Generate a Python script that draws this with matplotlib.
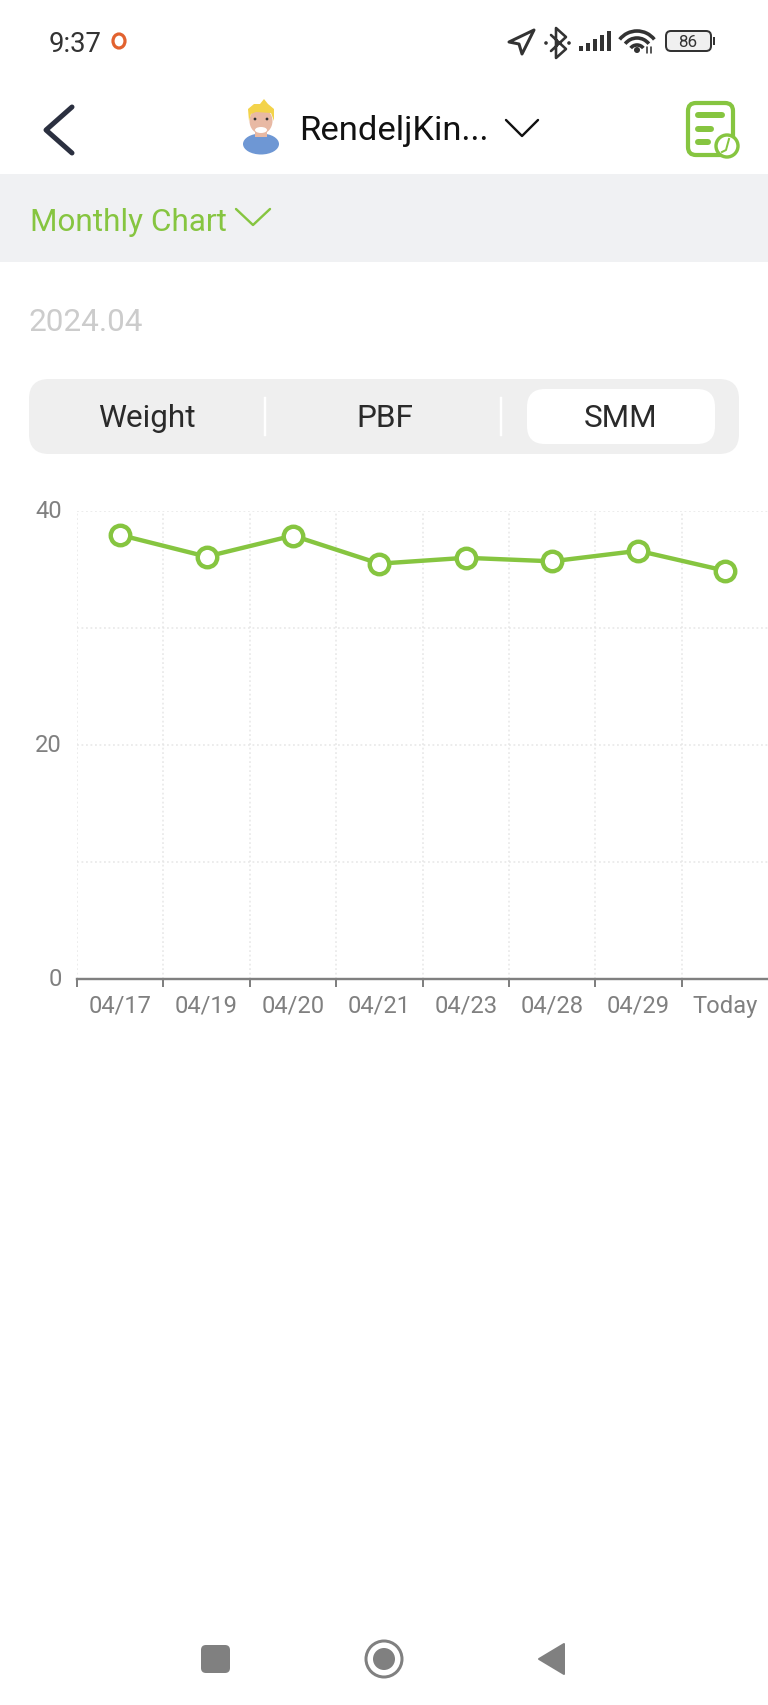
import matplotlib
matplotlib.use("Agg")
import matplotlib.pyplot as plt
from matplotlib.patches import FancyBboxPatch, Circle, Ellipse, Arc, Polygon, Rectangle
from matplotlib.transforms import ScaledTranslation

plt.rcParams['font.family'] = ['Roboto', 'DejaVu Sans']

# ---- data ----
dates = ['04/17', '04/19', '04/20', '04/21', '04/23', '04/28', '04/29', 'Today']
smm_values = [37.95, 36.1, 37.9, 35.5, 36.0, 35.7, 36.6, 34.9]
y_gridlines = [0, 10, 20, 30, 40]
y_labels = {0: '0', 20: '20', 40: '40'}
tab_labels = ['Weight', 'PBF', 'SMM']

GREEN = '#86c540'
GREY = '#808080'
W, H = 768, 1706
px = 72 / 100  # points per pixel at dpi 100

fig = plt.figure(figsize=(W / 100, H / 100), dpi=100, facecolor='white')

# ---- interface overlay in pixel coordinates ----
ui = fig.add_axes([0, 0, 1, 1], zorder=0)
ui.set_xlim(0, W)
ui.set_ylim(H, 0)
ui.axis('off')


def label(x, y, s, size_px, color, ha='center', **kw):
    ui.text(x, y + 2, s, fontsize=size_px * px, color=color, ha=ha, va='center', **kw)


def stroke(pts, color, lw_px, **kw):
    xs, ys = zip(*pts)
    ui.plot(xs, ys, color=color, lw=lw_px * px, solid_capstyle='round',
            solid_joinstyle='round', **kw)


def rbox(x0, y0, x1, y1, r, **kw):
    ui.add_patch(FancyBboxPatch((x0 + r, y0 + r), x1 - x0 - 2 * r, y1 - y0 - 2 * r,
                                boxstyle=f'round,pad={r},rounding_size={r}', **kw))


# status bar
label(49, 42, '9:37', 27.5, '#333333', ha='left')
ui.add_patch(Ellipse((119, 42), 12, 14, fc='none', ec='#e2622f', lw=3.2 * px))
ui.add_patch(Polygon([(509, 43), (534, 31), (522, 55), (519, 45)], closed=True,
                     fc='none', ec='#333333', lw=3 * px, joinstyle='round'))
stroke([(551, 36), (566, 50), (556, 59), (556, 29), (566, 38), (551, 52)], '#333333', 2.6)
ui.add_patch(Circle((546, 44), 1.8, fc='#333333', ec='none'))
ui.add_patch(Circle((569, 44), 1.8, fc='#333333', ec='none'))
for bx, top in zip([581, 588, 595, 602, 609], [47, 44, 40, 36, 32]):
    ui.add_patch(Rectangle((bx - 2.2, top), 4.4, 52 - top, fc='#333333', ec='none'))
for r in (8, 15, 22):
    ui.add_patch(Arc((637, 54), r * 2, r * 2, theta1=218, theta2=322, ec='#333333', lw=3.6 * px))
ui.add_patch(Circle((637, 51), 3, fc='#333333', ec='none'))
stroke([(647, 48), (647, 54)], '#333333', 1.6)
stroke([(651, 48), (651, 54)], '#333333', 1.6)
rbox(666, 32, 711, 52, 5, fc='#f0f0f0', ec='#333333', lw=2 * px)
ui.add_patch(Rectangle((712.5, 38), 2.4, 8, fc='#333333', ec='none'))
label(688, 40.5, '86', 17, '#333333')

# title bar
stroke([(72, 108), (46, 131), (72, 154)], '#2b3040', 5)
ui.add_patch(Ellipse((261, 145), 36, 21, fc='#6e97d4', ec='none'))
ui.add_patch(Rectangle((255, 128), 12, 10, fc='#e8b9a4', ec='none'))
ui.add_patch(Ellipse((261, 122), 23, 26, fc='#e8b9a4', ec='none'))
ui.add_patch(Polygon([(249, 122), (248, 110), (254, 105), (260, 105), (264, 100), (268, 105),
                      (274, 110), (274, 122), (271, 114), (256, 113), (251, 115)],
                     closed=True, fc='#f3d34a', ec='none'))
ui.add_patch(Ellipse((261, 131), 12, 6, fc='white', ec='none'))
ui.add_patch(Circle((255, 120), 1.4, fc='#333333', ec='none'))
ui.add_patch(Circle((267, 120), 1.4, fc='#333333', ec='none'))
label(299, 129, 'RendeljKin...', 34.5, '#111111', ha='left')
stroke([(506, 121), (522, 137), (538, 121)], '#111111', 2.4)

rbox(688, 104, 733, 156, 8, fc='white', ec=GREEN, lw=4.2 * px)
stroke([(698, 116), (722, 116)], GREEN, 6)
stroke([(698, 130), (711, 130)], GREEN, 6)
stroke([(698, 143), (708, 143)], GREEN, 6)
ui.add_patch(Circle((727, 147), 11, fc='white', ec=GREEN, lw=3.4 * px, zorder=3))
ui.plot([729, 726, 722], [140, 151, 153], color=GREEN, lw=2 * px, zorder=4)

# selector band
ui.add_patch(Rectangle((0, 174.5), W, 88.5, fc='#f0f1f3', ec='none'))
label(29.5, 220, 'Monthly Chart', 31.5, GREEN, ha='left')
stroke([(236, 210), (253, 226), (270, 210)], GREEN, 2.4)
label(29, 320.5, '2024.04', 31.5, '#cccccc', ha='left')

# segmented control
rbox(29, 380, 739, 455, 20, fc='#efefef', ec='none')
rbox(527, 390, 715, 445, 18, fc='white', ec='none')
for dx in (265, 501):
    ui.plot([dx, dx], [399, 436], color='white', lw=2.4 * px)
for cx, t in zip((147, 385, 621), tab_labels):
    label(cx, 416.5, t, 31.5, '#2a2a2a')

# navigation bar
rbox(201, 1646, 230, 1674, 5, fc=GREY, ec='none')
ui.add_patch(Circle((384, 1660), 18, fc='none', ec=GREY, lw=3 * px))
ui.add_patch(Circle((384, 1660), 11, fc=GREY, ec='none'))
ui.add_patch(Polygon([(539, 1660), (564, 1645), (564, 1675)], closed=True, fc=GREY, ec=GREY,
                     lw=2 * px, joinstyle='round'))

# ---- chart ----
ax = fig.add_axes([77 / W, 1 - 980 / H, (W - 77) / W, (980 - 512) / H], zorder=1)
ax.patch.set_alpha(0)
x = list(range(len(dates)))
ax.set_xlim(-0.5, len(dates) - 0.5)
ax.set_ylim(0, 40)

edges = [i - 0.5 for i in x]
ax.set_xticks(edges)
ax.set_xticklabels([])
ax.set_xticks(x, dates, minor=True)
ax.set_yticks(y_gridlines)
ax.set_yticklabels([y_labels.get(v, '') for v in y_gridlines])

ax.tick_params(axis='x', which='major', length=8 * px, width=2 * px, color=GREY)
ax.tick_params(axis='x', which='minor', length=0, pad=15 * px,
               labelsize=23.8 * px, labelcolor=GREY)
ax.tick_params(axis='y', length=0, pad=15 * px, labelsize=23.8 * px, labelcolor=GREY)
shift_up = ScaledTranslation(0, 2.5 / 100, fig.dpi_scale_trans)
for tl in ax.get_yticklabels():
    tl.set_transform(tl.get_transform() + shift_up)

ax.grid(True, which='major', color='#e6e6e6', lw=1.5 * px, ls=(0, (1.2, 1.8)))
ax.set_axisbelow(True)
for side in ('top', 'right', 'left'):
    ax.spines[side].set_visible(False)
ax.spines['bottom'].set_color(GREY)
ax.spines['bottom'].set_linewidth(2.4 * px)

ax.plot(x, smm_values, color=GREEN, lw=4.4 * px, marker='o', ms=19.5 * px,
        mfc='white', mec=GREEN, mew=4.4 * px, clip_on=False, zorder=3)

fig.savefig('out.png', dpi=100)
